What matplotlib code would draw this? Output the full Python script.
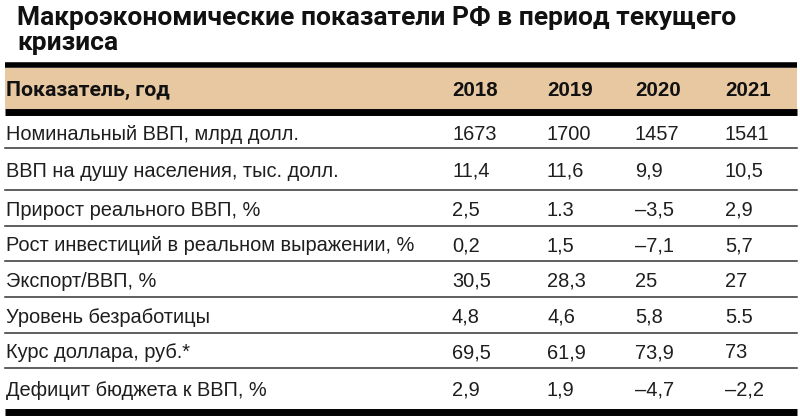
import matplotlib.pyplot as plt

# table data
title_lines = ["Макроэкономические показатели РФ в период текущего", "кризиса"]
header_label = "Показатель, год"
years = ["2018", "2019", "2020", "2021"]
indicators = [
    "Номинальный ВВП, млрд долл.",
    "ВВП на душу населения, тыс. долл.",
    "Прирост реального ВВП, %",
    "Рост инвестиций в реальном выражении, %",
    "Экспорт/ВВП, %",
    "Уровень безработицы",
    "Курс доллара, руб.*",
    "Дефицит бюджета к ВВП, %",
]
v2018 = ["1673", "11,4", "2,5", "0,2", "30,5", "4,8", "69,5", "2,9"]
v2019 = ["1700", "11,6", "1.3", "1,5", "28,3", "4,6", "61,9", "1,9"]
v2020 = ["1457", "9,9", "–3,5", "–7,1", "25", "5,8", "73,9", "–4,7"]
v2021 = ["1541", "10,5", "2,9", "5,7", "27", "5.5", "73", "–2,2"]

# layout (pixels)
beige = "#e8c8a0"
col_x = [452, 547, 635, 725]
left, right = 5, 797
head_top, head_bot = 68, 109
row_edges = [116, 148, 190, 226, 261, 297, 333, 368, 408]

fig = plt.figure(figsize=(8, 4.19), dpi=100)
ax = fig.add_axes([0, 0, 1, 1])
ax.set_xlim(0, 800)
ax.set_ylim(419, 0)
ax.axis("off")

for k, line in enumerate(title_lines):
    ax.text(17, 25 + 25 * k, line, fontsize=19, fontweight="bold", family="Roboto",
            va="baseline", ha="left", color="#111111")

# header band
ax.fill_between([left, right], head_top, head_bot, color=beige, lw=0)
ax.plot([left, right], [65.5, 65.5], color="black", lw=4, solid_capstyle="butt")
ax.plot([left, right], [112.5, 112.5], color="black", lw=5, solid_capstyle="butt")
hy = (head_top + head_bot) / 2 + 1.5
ax.text(6, hy, header_label, fontsize=15.3, fontweight="bold", family="Roboto",
        va="center", ha="left", color="#111111")
for x, yr in zip(col_x, years):
    ax.text(x, hy, yr, fontsize=14.8, fontweight="bold", family="Liberation Sans",
            va="center", ha="left", color="#111111")

cols = [v2018, v2019, v2020, v2021]
for i, name in enumerate(indicators):
    yc = (row_edges[i] + row_edges[i + 1]) / 2 + 2
    ax.text(6, yc, name, fontsize=14.4, family="Liberation Sans",
            va="center", ha="left", color="#1e1e1e")
    for x, col in zip(col_x, cols):
        ax.text(x, yc, col[i], fontsize=14.4, family="Liberation Sans",
                va="center", ha="left", color="#1e1e1e")
    yb = row_edges[i + 1]
    if i < len(indicators) - 1:
        ax.plot([left, right], [yb, yb], color="#333333", lw=1.1)
    else:
        ax.plot([left, right], [yb + 3.5, yb + 3.5], color="black", lw=5, solid_capstyle="butt")

fig.savefig("out.png", dpi=100)
